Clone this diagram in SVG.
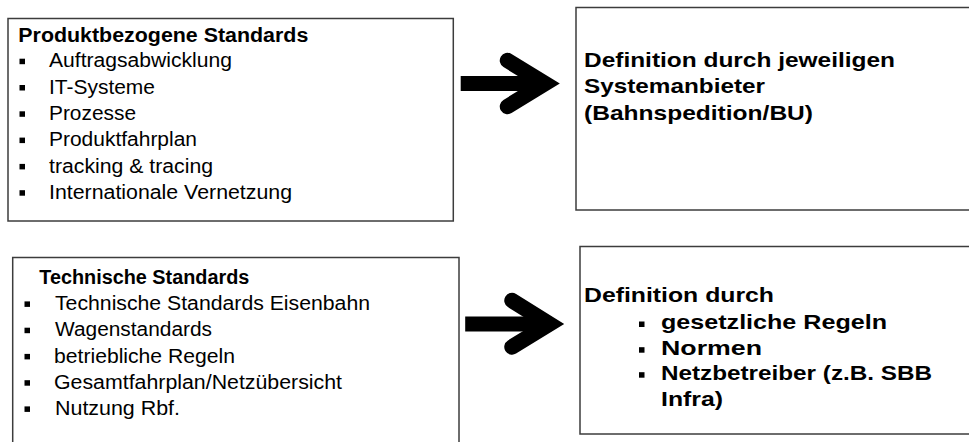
<svg xmlns="http://www.w3.org/2000/svg" width="969" height="442" viewBox="0 0 969 442">
<style>
.box{fill:#fff;stroke:#3c3c3c;stroke-width:1.5}
.t{font-family:"Liberation Sans",Arial,sans-serif;fill:#000}
.r{font-size:20px}
.b{font-size:20px;font-weight:bold}
.bb{font-size:20.5px;font-weight:bold}
.bul{fill:#000}
.shaft{fill:#000}
.chev{fill:none;stroke:#000;stroke-width:15.5;stroke-linecap:round;stroke-linejoin:miter;stroke-miterlimit:6}
</style>
<rect width="969" height="442" fill="#fff"/>

<g id="produkt">
<rect class="box" x="8" y="18.5" width="445.3" height="202.5"/>
<text class="t b" x="18.3" y="42.3" textLength="290" lengthAdjust="spacingAndGlyphs">Produktbezogene Standards</text>
<rect class="bul" x="19.5" y="58.7" width="5.5" height="5.5"/>
<text class="t r" x="49" y="67.3" textLength="183" lengthAdjust="spacingAndGlyphs">Auftragsabwicklung</text>
<rect class="bul" x="19.5" y="85" width="5.5" height="5.5"/>
<text class="t r" x="49" y="93.6" textLength="106" lengthAdjust="spacingAndGlyphs">IT-Systeme</text>
<rect class="bul" x="19.5" y="111.3" width="5.5" height="5.5"/>
<text class="t r" x="49" y="119.9" textLength="87" lengthAdjust="spacingAndGlyphs">Prozesse</text>
<rect class="bul" x="19.5" y="137.6" width="5.5" height="5.5"/>
<text class="t r" x="49" y="146.2" textLength="148" lengthAdjust="spacingAndGlyphs">Produktfahrplan</text>
<rect class="bul" x="19.5" y="163.9" width="5.5" height="5.5"/>
<text class="t r" x="49" y="172.5" textLength="164" lengthAdjust="spacingAndGlyphs">tracking &amp; tracing</text>
<rect class="bul" x="19.5" y="190.2" width="5.5" height="5.5"/>
<text class="t r" x="49" y="198.8" textLength="243" lengthAdjust="spacingAndGlyphs">Internationale Vernetzung</text>
</g>

<g id="systemanbieter">
<rect class="box" x="576" y="7.5" width="410" height="202.5"/>
<text class="t bb" x="584" y="66.5" textLength="311" lengthAdjust="spacingAndGlyphs">Definition durch jeweiligen</text>
<text class="t bb" x="584" y="93" textLength="181" lengthAdjust="spacingAndGlyphs">Systemanbieter</text>
<text class="t bb" x="584" y="119.5" textLength="229" lengthAdjust="spacingAndGlyphs">(Bahnspedition/BU)</text>
</g>

<g id="technisch">
<rect class="box" x="12.7" y="257.5" width="446.3" height="210"/>
<text class="t b" x="39.3" y="284" textLength="210" lengthAdjust="spacingAndGlyphs">Technische Standards</text>
<rect class="bul" x="24.5" y="301.4" width="5.5" height="5.5"/>
<text class="t r" x="55" y="310" textLength="315" lengthAdjust="spacingAndGlyphs">Technische Standards Eisenbahn</text>
<rect class="bul" x="24.5" y="327.7" width="5.5" height="5.5"/>
<text class="t r" x="55" y="336.3" textLength="157" lengthAdjust="spacingAndGlyphs">Wagenstandards</text>
<rect class="bul" x="24.5" y="353.9" width="5.5" height="5.5"/>
<text class="t r" x="54" y="362.5" textLength="181" lengthAdjust="spacingAndGlyphs">betriebliche Regeln</text>
<rect class="bul" x="24.5" y="380.2" width="5.5" height="5.5"/>
<text class="t r" x="54" y="388.8" textLength="288" lengthAdjust="spacingAndGlyphs">Gesamtfahrplan/Netzübersicht</text>
<rect class="bul" x="24.5" y="406.4" width="5.5" height="5.5"/>
<text class="t r" x="55" y="415" textLength="125" lengthAdjust="spacingAndGlyphs">Nutzung Rbf.</text>
</g>

<g id="netz">
<rect class="box" x="580" y="246.5" width="410" height="187.5"/>
<text class="t bb" x="584" y="302" textLength="190" lengthAdjust="spacingAndGlyphs">Definition durch</text>
<rect class="bul" x="639" y="321.5" width="5.5" height="5.5"/>
<text class="t bb" x="661" y="329.3" textLength="226" lengthAdjust="spacingAndGlyphs">gesetzliche Regeln</text>
<rect class="bul" x="639" y="347.2" width="5.5" height="5.5"/>
<text class="t bb" x="661" y="355" textLength="101" lengthAdjust="spacingAndGlyphs">Normen</text>
<rect class="bul" x="639" y="372.2" width="5.5" height="5.5"/>
<text class="t bb" x="661" y="380" textLength="271" lengthAdjust="spacingAndGlyphs">Netzbetreiber (z.B. SBB</text>
<text class="t bb" x="661" y="405.5" textLength="62" lengthAdjust="spacingAndGlyphs">Infra)</text>
</g>

<g id="connectors">
<g id="arrow-top">
<rect class="shaft" x="460.7" y="76" width="86" height="15"/>
<polyline class="chev" points="507.5,60.5 545,83.5 507.5,106.5"/>
</g>
<g id="arrow-bottom">
<rect class="shaft" x="465.2" y="316.5" width="86" height="15"/>
<polyline class="chev" points="512,300.5 549.5,324 512,347"/>
</g>
</g>
</svg>
